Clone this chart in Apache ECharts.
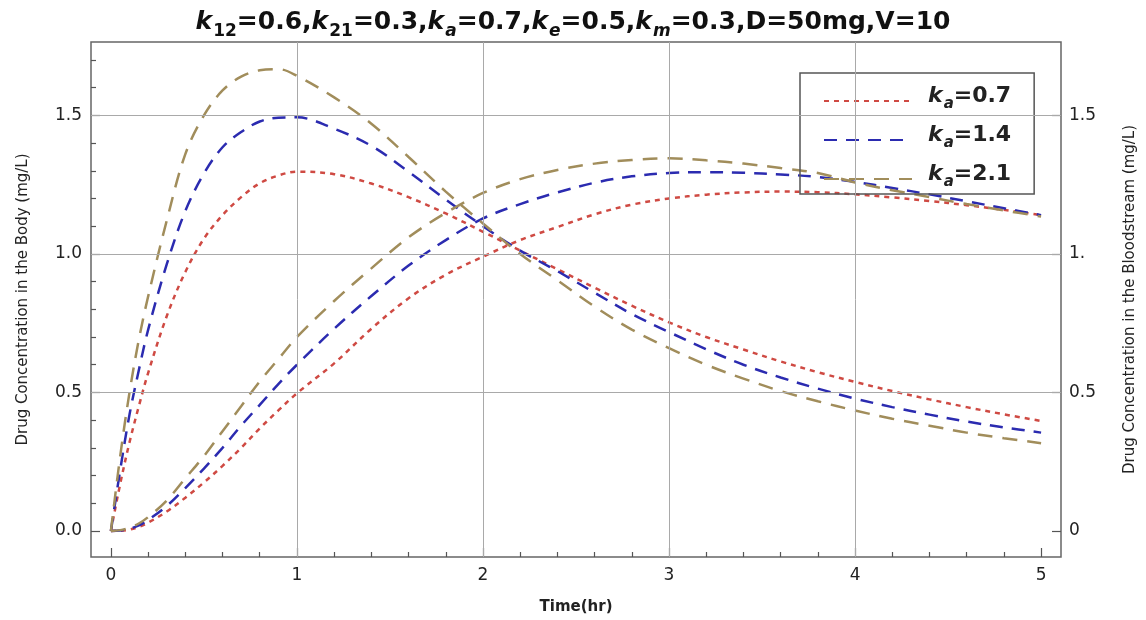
<!DOCTYPE html>
<html>
<head>
<meta charset="utf-8">
<script src="https://cdn.jsdelivr.net/npm/echarts@6/dist/echarts.min.js"></script>
<style>
  html, body { margin: 0; padding: 0; background: #fff; }
  #chart { width: 1146px; height: 620px; }
</style>
</head>
<body>
<div id="chart"></div>
<script>
// time points (hr)
var time = [0, 0.05, 0.1, 0.15, 0.2, 0.3, 0.4, 0.5, 0.6, 0.7, 0.8, 0.9, 1.0, 1.2, 1.4, 1.6, 1.8, 2.0, 2.2, 2.4, 2.6, 2.8, 3.0, 3.2, 3.4, 3.6, 3.8, 4.0, 4.2, 4.4, 4.6, 4.8, 5.0]

// drug concentration in the body (mg/L)
var bodyKa07 = [0, 0.17, 0.32, 0.45, 0.57, 0.775, 0.935, 1.055, 1.14, 1.205, 1.255, 1.283, 1.297, 1.288, 1.254, 1.205, 1.146, 1.08, 1.012, 0.945, 0.878, 0.813, 0.753, 0.70, 0.655, 0.612, 0.573, 0.538, 0.505, 0.475, 0.447, 0.421, 0.397]
var bodyKa14 = [0, 0.22, 0.42, 0.58, 0.726, 0.962, 1.155, 1.29, 1.385, 1.44, 1.478, 1.492, 1.493, 1.452, 1.39, 1.297, 1.196, 1.10, 1.012, 0.938, 0.86, 0.783, 0.718, 0.656, 0.60, 0.554, 0.514, 0.478, 0.447, 0.42, 0.395, 0.374, 0.355]
var bodyKa21 = [0, 0.27, 0.5, 0.69, 0.846, 1.12, 1.36, 1.50, 1.59, 1.64, 1.663, 1.667, 1.643, 1.565, 1.47, 1.35, 1.225, 1.11, 1.0, 0.905, 0.81, 0.727, 0.66, 0.60, 0.55, 0.505, 0.468, 0.435, 0.405, 0.38, 0.355, 0.335, 0.317]

// drug concentration in the bloodstream (mg/L)
var bloodKa07 = [0, 0.001, 0.005, 0.015, 0.03, 0.07, 0.12, 0.175, 0.235, 0.30, 0.37, 0.435, 0.497, 0.605, 0.73, 0.84, 0.925, 0.99, 1.05, 1.097, 1.143, 1.178, 1.20, 1.214, 1.222, 1.225, 1.223, 1.215, 1.204, 1.191, 1.176, 1.159, 1.14]
var bloodKa14 = [0, 0.002, 0.008, 0.02, 0.04, 0.09, 0.155, 0.225, 0.30, 0.38, 0.455, 0.53, 0.60, 0.73, 0.848, 0.958, 1.05, 1.128, 1.18, 1.222, 1.257, 1.28, 1.292, 1.295, 1.293, 1.287, 1.278, 1.26, 1.238, 1.215, 1.19, 1.165, 1.14]
var bloodKa21 = [0, 0.003, 0.012, 0.027, 0.05, 0.11, 0.19, 0.27, 0.36, 0.45, 0.54, 0.62, 0.70, 0.83, 0.948, 1.06, 1.148, 1.22, 1.27, 1.303, 1.326, 1.339, 1.345, 1.338, 1.326, 1.31, 1.292, 1.258, 1.23, 1.205, 1.18, 1.157, 1.135]

var legendNames = ['ka=0.7', 'ka=1.4', 'ka=2.1']

// ticks and labels
var xMajorTicks = [0, 1, 2, 3, 4, 5]
var xMinorTicks = [0.2, 0.4, 0.6, 0.8, 1.2, 1.4, 1.6, 1.8, 2.2, 2.4, 2.6, 2.8, 3.2, 3.4, 3.6, 3.8, 4.2, 4.4, 4.6, 4.8]
var yMajorTicks = [0, 0.5, 1, 1.5]
var yMinorTicks = [0.1, 0.2, 0.3, 0.4, 0.6, 0.7, 0.8, 0.9, 1.1, 1.2, 1.3, 1.4, 1.6, 1.7]
var leftTickLabels = ['0.0', '0.5', '1.0', '1.5']
var rightTickLabels = ['0', '0.5', '1.', '1.5']
var xGridLines = [1, 2, 3, 4]
var yGridLines = [0.5, 1, 1.5]

// title parameters: [symbol, subscript, value]
var titleParams = [['k', '12', '0.6'], ['k', '21', '0.3'], ['k', 'a', '0.7'], ['k', 'e', '0.5'], ['k', 'm', '0.3']]
var titleTail = 'D=50mg,V=10'

var X_MIN = -0.107
var X_MAX = 5.107
var Y_MIN = -0.094
var Y_MAX = 1.765

var FONT = 'DejaVu Sans'

var lineStyles = [
  { color: '#cf4a43', type: [5, 5] },
  { color: '#2b2bb0', type: [13, 9] },
  { color: '#a18d5b', type: [15, 10] }
]

function pairs(vals) {
  return time.map(function(t, i) { return [t, vals[i]] })
}

function pick(ticks, labels, v) {
  var i = ticks.findIndex(function(t) { return Math.abs(t - v) < 1e-6 })
  return i < 0 ? '' : labels[i]
}

function titleText() {
  var parts = titleParams.map(function(p) {
    var sub = /\d/.test(p[1]) ? 'sn' : 's'
    return '{k|' + p[0] + '}{' + sub + '|' + p[1] + '}{n|=' + p[2] + ',}'
  })
  return parts.join('') + '{n|' + titleTail + '}'
}

var chart = echarts.init(document.getElementById('chart'), null, { renderer: 'canvas' })

var curveSets = [
  [bodyKa07, bloodKa07],
  [bodyKa14, bloodKa14],
  [bodyKa21, bloodKa21]
]

var series = [{
  // grid lines
  type: 'line',
  name: 'grid',
  data: [],
  z: 0,
  silent: true,
  markLine: {
    silent: true,
    symbol: 'none',
    label: { show: false },
    lineStyle: { color: '#a9a9a9', width: 1, type: 'solid' },
    data: xGridLines.map(function(v) { return { xAxis: v } })
      .concat(yGridLines.map(function(v) { return { yAxis: v } }))
  }
}]

curveSets.forEach(function(set, k) {
  set.forEach(function(vals, j) {
    series.push({
      type: 'line',
      name: legendNames[k],
      xAxisIndex: 0,
      yAxisIndex: j === 0 ? 0 : 2,
      data: pairs(vals),
      symbol: 'none',
      smooth: 0.35,
      z: 3,
      lineStyle: { color: lineStyles[k].color, width: 2.5, type: lineStyles[k].type },
      itemStyle: { color: lineStyles[k].color }
    })
  })
})

var baseAxis = {
  type: 'value',
  splitLine: { show: false },
  axisLine: { show: false, onZero: false }
}

chart.setOption({
  backgroundColor: '#fff',
  animation: false,
  title: {
    text: titleText(),
    left: 'center',
    top: 10,
    textStyle: {
      rich: {
        k: { fontFamily: FONT, fontWeight: 'bold', fontStyle: 'italic', fontSize: 25, color: '#111', lineHeight: 25, padding: [0, 0, 5, 0], verticalAlign: 'bottom' },
        s: { fontFamily: FONT, fontWeight: 'bold', fontStyle: 'italic', fontSize: 17, color: '#111', lineHeight: 17, padding: [13, 0, 0, 1], verticalAlign: 'bottom' },
        sn: { fontFamily: FONT, fontWeight: 'bold', fontSize: 17, color: '#111', lineHeight: 17, padding: [13, 0, 0, 1], verticalAlign: 'bottom' },
        n: { fontFamily: FONT, fontWeight: 'bold', fontSize: 25, color: '#111', lineHeight: 25, padding: [0, 0, 5, 0], verticalAlign: 'bottom' }
      }
    }
  },
  legend: {
    data: legendNames,
    orient: 'vertical',
    left: 800,
    top: 73,
    padding: [12, 23, 4, 23],
    itemGap: 12,
    itemWidth: 88,
    itemHeight: 14,
    borderColor: '#555',
    borderWidth: 1.5,
    itemStyle: { color: 'rgba(0,0,0,0)', borderWidth: 0, opacity: 0 },
    formatter: function(name) {
      return '{k|k}{s|a}{n|=' + name.split('=')[1] + '}'
    },
    textStyle: {
      rich: {
        k: { fontFamily: FONT, fontWeight: 'bold', fontStyle: 'italic', fontSize: 22, color: '#222', lineHeight: 22, padding: [0, 0, 5, 11], verticalAlign: 'bottom' },
        s: { fontFamily: FONT, fontWeight: 'bold', fontStyle: 'italic', fontSize: 15, color: '#222', lineHeight: 15, padding: [12, 0, 0, 1], verticalAlign: 'bottom' },
        n: { fontFamily: FONT, fontWeight: 'bold', fontSize: 22, color: '#222', lineHeight: 22, padding: [0, 0, 5, 0], verticalAlign: 'bottom' }
      }
    }
  },
  grid: {
    left: 91,
    right: 83,
    top: 42,
    bottom: 63,
    show: true,
    borderColor: '#666',
    borderWidth: 1.5
  },
  xAxis: [
    Object.assign({}, baseAxis, {
      min: X_MIN,
      max: X_MAX,
      position: 'bottom',
      name: 'Time(hr)',
      nameLocation: 'middle',
      nameGap: 43,
      nameTextStyle: { fontFamily: FONT, fontSize: 15, fontWeight: 'bold', color: '#222' },
      axisTick: { show: true, inside: true, length: 9, customValues: xMajorTicks, lineStyle: { color: '#555', width: 1.2 } },
      axisLabel: {
        customValues: xMajorTicks,
        margin: 10,
        fontFamily: FONT,
        fontSize: 17,
        color: '#222',
        formatter: function(v) { return String(v) }
      }
    }),
    Object.assign({}, baseAxis, {
      min: X_MIN,
      max: X_MAX,
      position: 'bottom',
      axisTick: { show: true, inside: true, length: 5, customValues: xMinorTicks, lineStyle: { color: '#555', width: 1.2 } },
      axisLabel: { show: false }
    })
  ],
  yAxis: [
    Object.assign({}, baseAxis, {
      min: Y_MIN,
      max: Y_MAX,
      position: 'left',
      name: 'Drug Concentration in the Body (mg/L)',
      nameLocation: 'middle',
      nameRotate: 90,
      nameGap: 60,
      nameTextStyle: { fontFamily: FONT, fontSize: 15, color: '#222' },
      axisTick: { show: true, inside: true, length: 9, customValues: yMajorTicks, lineStyle: { color: '#555', width: 1.2 } },
      axisLabel: {
        customValues: yMajorTicks,
        margin: 9,
        fontFamily: FONT,
        fontSize: 17,
        color: '#222',
        formatter: function(v) { return pick(yMajorTicks, leftTickLabels, v) }
      }
    }),
    Object.assign({}, baseAxis, {
      min: Y_MIN,
      max: Y_MAX,
      position: 'left',
      axisTick: { show: true, inside: true, length: 5, customValues: yMinorTicks, lineStyle: { color: '#555', width: 1.2 } },
      axisLabel: { show: false }
    }),
    Object.assign({}, baseAxis, {
      min: Y_MIN,
      max: Y_MAX,
      position: 'right',
      name: 'Drug Concentration in the Bloodstream (mg/L)',
      nameLocation: 'middle',
      nameRotate: 90,
      nameGap: 62,
      nameTextStyle: { fontFamily: FONT, fontSize: 15, color: '#222' },
      axisTick: { show: true, inside: true, length: 9, customValues: yMajorTicks, lineStyle: { color: '#555', width: 1.2 } },
      axisLabel: {
        customValues: yMajorTicks,
        margin: 8,
        fontFamily: FONT,
        fontSize: 17,
        color: '#222',
        formatter: function(v) { return pick(yMajorTicks, rightTickLabels, v) }
      }
    })
  ],
  series: series
})
</script>
</body>
</html>
